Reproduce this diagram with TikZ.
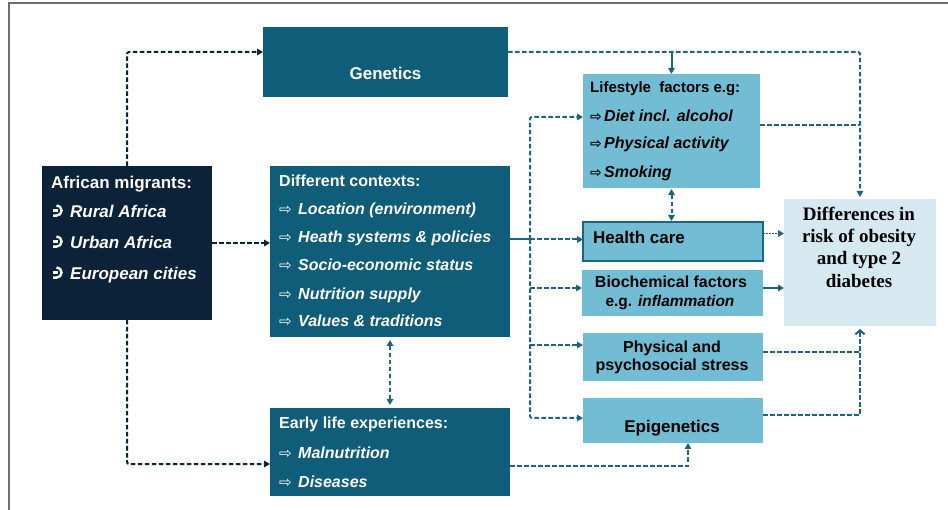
\documentclass[tikz,border=0pt]{standalone}
\usepackage{fontspec}
\setmainfont{Liberation Sans}
\newfontfamily\dejavu{DejaVu Sans}
\newfontfamily\timesb{Liberation Serif}
\usetikzlibrary{arrows.meta}

\definecolor{navy}{HTML}{0B2239}
\definecolor{tealbox}{HTML}{0F5D78}
\definecolor{lightbox}{HTML}{72BDD3}
\definecolor{palebox}{HTML}{D6E8F0}
\definecolor{linkteal}{HTML}{1B6482}
\definecolor{framegray}{HTML}{6E6E6E}

\newcommand{\fsz}[1]{\fontsize{#1}{#1}\selectfont}
\newcommand{\openarr}{{\dejavu\fsz{15}⇨}}
\newcommand{\blackarr}{{\dejavu\bfseries\fsz{14}⇨}}

\begin{document}
\begin{tikzpicture}[x=1pt,y=-1pt,
  box/.style={inner sep=0pt, outer sep=0pt, anchor=north west},
  darkbox/.style={box, fill=navy},
  midbox/.style={box, fill=tealbox},
  lightbx/.style={box, fill=lightbox},
  palebx/.style={box, fill=palebox},
  lt/.style={inner sep=0pt, anchor=base west},
  ct/.style={inner sep=0pt, anchor=base},
  wt/.style={text=white},
  link/.style={line width=2pt, dash pattern=on 4.5pt off 2.5pt},
  navylink/.style={link, draw=navy},
  teallink/.style={link, draw=linkteal},
  solidteal/.style={line width=2pt, draw=linkteal},
  tip/.style={-{Triangle[length=6pt,width=6.5pt]}},
  tips/.style={{Triangle[length=6pt,width=6.5pt]}-{Triangle[length=6pt,width=6.5pt]}},
  hookmark/.style={draw=white, line width=2.4pt},
]
\useasboundingbox (0,0) rectangle (948,510);
\draw[framegray, line width=1.5pt] (9,510) -- (9,3) -- (948,3);

% boxes
\node[midbox, minimum width=245pt, minimum height=70pt] (gen) at (263,27) {};
\node[darkbox, minimum width=170pt, minimum height=154pt] (mig) at (42,166) {};
\node[midbox, minimum width=240pt, minimum height=171pt] (ctx) at (270,166) {};
\node[midbox, minimum width=240pt, minimum height=88pt] (early) at (270,408) {};
\node[lightbx, minimum width=177pt, minimum height=114pt] (life) at (583,74) {};
\node[lightbx, draw=linkteal, line width=1.3pt, minimum width=180pt, minimum height=39pt] (hc) at (583,222) {};
\node[lightbx, minimum width=181pt, minimum height=46pt] (bio) at (582,270) {};
\node[lightbx, minimum width=180pt, minimum height=48pt] (phys) at (583,333) {};
\node[lightbx, minimum width=180pt, minimum height=45pt] (epi) at (583,398) {};
\node[palebx, minimum width=152pt, minimum height=127pt] (diff) at (784,199) {};

% texts: African migrants, each item led by a hooked bullet
\node[lt, wt, font=\bfseries\fsz{17}] (migh) at (51,189) {African migrants:};
\foreach \n/\y/\t in {m1/218/Rural Africa, m2/249/Urban Africa, m3/280/European cities}{
  \draw[hookmark] (56.5,\y-12.6) arc[start angle=-90, end angle=90, radius=5.1] -- (53,\y-2.4);
  \draw[hookmark] (52.5,\y-7.5) -- (57.5,\y-7.5);
  \node[lt, wt, font=\bfseries\itshape\fsz{17}] (\n) at (70,\y) {\t};
}

% texts: contexts
\node[lt, wt, font=\bfseries\fsz{16}] (ctxh) at (279,187) {Different contexts:};
\foreach \n/\y/\t in {c1/215/Location (environment), c2/243/Heath systems \& policies,
  c3/271/Socio-economic status, c4/300/Nutrition supply, c5/327/Values \& traditions}{
  \node[lt, wt] (\n s) at (279,\y) {\openarr};
  \node[lt, wt, font=\bfseries\itshape\fsz{16}] (\n) at (298,\y) {\t};
}

% texts: early life
\node[lt, wt, font=\bfseries\fsz{16}] (earlyh) at (279,429) {Early life experiences:};
\foreach \n/\y/\t in {e1/459/Malnutrition, e2/487/Diseases}{
  \node[lt, wt] (\n s) at (279,\y) {\openarr};
  \node[lt, wt, font=\bfseries\itshape\fsz{16}] (\n) at (298,\y) {\t};
}

% texts: genetics
\node[ct, wt, font=\bfseries\fsz{17}] (gent) at (385.5,80) {Genetics};

% texts: lifestyle
\node[lt, font=\bfseries\fsz{15}] (lifeh) at (590,93) {Lifestyle\ \ factors e.g:};
\foreach \n/\y/\t in {l1/121.5/Diet incl. alcohol, l2/149/Physical activity, l3/178/Smoking}{
  \node[lt] (\n s) at (590,\y) {\blackarr};
  \node[lt, font=\bfseries\itshape\fsz{16}] (\n) at (604,\y) {\t};
}

% texts: right column
\node[lt, font=\bfseries\fsz{17}] (hct) at (593,244) {Health care};
\node[ct, font=\bfseries\fsz{16}] (bio1) at (671,288) {Biochemical factors};
\node[ct, font=\bfseries\fsz{15.5}] (bio2) at (670,307) {e.g. \textit{inflammation}};
\node[ct, font=\bfseries\fsz{16}] (phys1) at (672,353) {Physical and};
\node[ct, font=\bfseries\fsz{16}] (phys2) at (672,371) {psychosocial stress};
\node[ct, font=\bfseries\fsz{17}] (epit) at (672,432) {Epigenetics};
\foreach \n/\y/\t in {d1/221/Differences in, d2/243/risk of obesity, d3/265/and type 2, d4/288/diabetes}{
  \node[ct, font=\timesb\bfseries\fsz{19}] (\n) at (859,\y) {\t};
}

% connectors from the migrants box
\coordinate (gW) at ([yshift=10pt]gen.west);
\coordinate (eW) at ([yshift=-12pt]early.west);
\draw[navylink, tip, rounded corners=2pt] (mig.north) |- (gW);
\draw[navylink, tip] (mig.east) -- (mig.east -| ctx.west);
\draw[navylink, tip, rounded corners=2pt] (mig.south) |- (eW);

% contexts <-> early life
\draw[teallink, tips, shorten <=3pt, shorten >=3pt] (ctx.south) -- (early.north);

% genetics line
\coordinate (gE) at ([yshift=10pt]gen.east);
\draw[teallink, tip, rounded corners=2pt, shorten >=2pt] (gE) -| (diff.north);
\draw[solidteal, tip] (gE -| life.north) -- (life.north);
\coordinate (lE) at ([yshift=6pt]life.east);
\draw[teallink] (lE) -- (lE -| diff.north);
\draw[teallink, tips, shorten <=1pt, shorten >=1pt] (life.south) -- (life.south |- hc.north);

% contexts bus
\coordinate (cE) at ([yshift=12pt]ctx.east);
\coordinate (bj) at ([xshift=20pt]cE);
\coordinate (lW) at ([yshift=14pt]life.west);
\coordinate (bW) at ([yshift=5pt]bio.west);
\coordinate (pW) at ([yshift=12pt]phys.west);
\coordinate (epW) at ([yshift=2.5pt]epi.west);
\draw[solidteal] (cE) -- (bj);
\draw[teallink, tip] (bj) -- (bj -| hc.west);
\draw[teallink, tip, rounded corners=2pt] (bj) |- (lW);
\draw[teallink, tip, rounded corners=2pt] (bj) |- (epW);
\draw[teallink, tip] (bj |- bW) -- (bW);
\draw[teallink, tip] (bj |- pW) -- (pW);

% into the outcome box
\coordinate (hE) at ([yshift=8pt]hc.east);
\draw[linkteal, line width=1.5pt, dash pattern=on 1.5pt off 1.5pt, tip] (hE) -- (hE -| diff.west);
\coordinate (bE) at ([yshift=5pt]bio.east);
\draw[solidteal, tip] (bE) -- (bE -| diff.west);
\coordinate (pE) at ([yshift=5pt]phys.east);
\coordinate (eE) at ([yshift=5.5pt]epi.east);
\draw[teallink] (pE) -- (pE -| diff.south);
\draw[teallink, -{Straight Barb[length=4pt,width=9pt]}, shorten >=3pt] (eE) -| (diff.south);

% early life -> epigenetics
\coordinate (elE) at ([yshift=-14pt]early.east);
\coordinate (epB) at ([xshift=15pt]epi.south);
\draw[teallink, tip] (elE) -| (epB);
\end{tikzpicture}
\end{document}
